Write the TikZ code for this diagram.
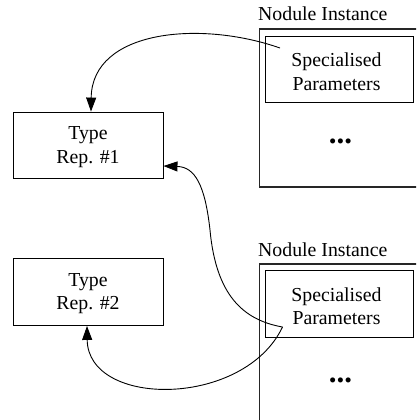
\documentclass[tikz,border=0pt]{standalone}
\usepackage{fontspec}
\setmainfont{Liberation Serif}
\usetikzlibrary{arrows.meta}
\begin{document}
\begin{tikzpicture}[x=1pt,y=-1pt,
  box/.style={draw=black,line width=0.9pt,rectangle,inner sep=0pt},
  outerbox/.style={draw=black!85,line width=1.1pt},
  txt/.style={anchor=base,inner sep=0pt,font=\fontsize{19.8}{23}\selectfont},
  lbl/.style={anchor=base west,inner sep=0pt,font=\fontsize{19.8}{23}\selectfont},
  dotsnode/.style={inner sep=0pt,font=\fontsize{31}{31}\selectfont\bfseries},
  link/.style={line width=0.9pt,-{Triangle[length=14pt,width=10pt]}}]
\useasboundingbox (0,0) rectangle (416,420);
\clip (0,0) rectangle (416,420);
% top instance
\node[lbl] (lab1) at (258,21) {Nodule Instance};
\draw[outerbox] (440,29) -- (259.5,29) -- (259.5,187) -- (440,187);
\node[box,minimum width=148pt,minimum height=66pt] (inner1) at (339,69) {};
\node[txt] (inner1a) at (336.5,66.7) {Specialised};
\node[txt] (inner1b) at (336.5,90) {Parameters};
\node[dotsnode] (dots1) at (340.5,141.7) {...};
% bottom instance
\node[lbl] (lab2) at (258,256) {Nodule Instance};
\draw[outerbox] (440,264) -- (259.5,264) -- (259.5,440);
\node[box,minimum width=148pt,minimum height=66.5pt] (inner2) at (339,304) {};
\node[txt] (inner2a) at (336.5,301) {Specialised};
\node[txt] (inner2b) at (336.5,324.3) {Parameters};
\node[dotsnode] (dots2) at (340.5,380.5) {...};
% type reps
\node[box,minimum width=150pt,minimum height=66pt] (type1) at (88,145) {};
\node[txt] (type1a) at (88,139.3) {Type};
\node[txt] (type1b) at (88,163.3) {Rep. \#1};
\node[box,minimum width=150pt,minimum height=67pt] (type2) at (88,292) {};
\node[txt] (type2a) at (88,286.5) {Type};
\node[txt] (type2b) at (88,309.5) {Rep. \#2};
% connectors
\coordinate (t1) at (280,48);
\coordinate (t2) at (282.5,327);
\draw[link] (t1) .. controls (200,20) and (92,30) .. (type1.north -| 91,0);
\draw[link] (t2) .. controls (243,320) and (216,295) .. (210,230)
  .. controls (205,185) and (195,167) .. (type1.east |- 0,166);
\draw[link] (t2) .. controls (244,408) and (88,408) .. (type2.south -| 87,0);
\end{tikzpicture}
\end{document}
